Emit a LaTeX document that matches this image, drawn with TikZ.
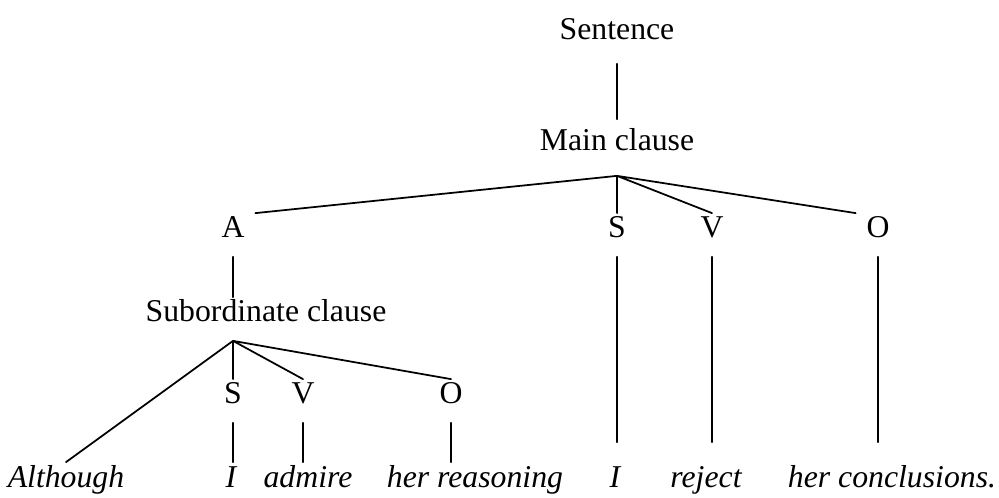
\documentclass[tikz,border=0pt]{standalone}
\usepackage{fontspec}
\setmainfont{Liberation Serif}
\begin{document}
\begin{tikzpicture}[x=0.4pt,y=-0.4pt,line cap=round,line width=0.7pt,
	lbl/.style={anchor=base,inner xsep=4pt,inner ysep=0pt,text height=9.6pt,text depth=7.2pt,font=\fontsize{12.7}{15}\selectfont},
	wd/.style={lbl,font=\fontsize{12.7}{15}\selectfont\itshape}]
	\useasboundingbox (0,0) rectangle (999,498);
	% upper levels
	\node[lbl,text depth=9.2pt] (sent) at (617,40) {Sentence};
	\node[lbl,text height=12.4pt,text depth=9.6pt] (mc) at (617,151) {Main clause};
	\node[lbl] (A) at (233,238) {A};
	\node[lbl] (S) at (617,238) {S};
	\node[lbl] (V) at (712,238) {V};
	\node[lbl] (O) at (878,238) {O};
	\node[lbl] (sub) at (266,322) {Subordinate clause};
	\node[lbl] (sS) at (233,404) {S};
	\node[lbl] (sV) at (303,404) {V};
	\node[lbl] (sO) at (451,404) {O};
	% words
	\node[wd] (although) at (66,487) {Although};
	\node[wd] (i1) at (231,487) {I};
	\node[wd] (admire) at (308,487) {admire};
	\node[wd] (reason) at (475,487) {her reasoning};
	\node[wd] (i2) at (615,487) {I};
	\node[wd] (reject) at (706,487) {reject};
	\node[wd] (concl) at (892,487) {her conclusions.};
	% branches
	\draw (sent) -- (mc);
	\draw (mc.south) -- (A.north east) (mc.south) -- (S.north) (mc.south) -- (V.north) (mc.south) -- (O.north west);
	\draw (A.south) -- (A.south |- sub.north);
	\coordinate (subtop) at (A.south |- sub.south);
	\draw (subtop) -- (although.north) (subtop) -- (sS.north) (subtop) -- (sV.north) (subtop) -- (sO.north);
	\foreach \n/\w in {sS/i1,sV/admire,sO/reason}
		\draw (\n.south) -- (\n.south |- \w.north);
	\foreach \n/\w in {S/i2,V/reject,O/concl}
		\draw[shorten >=8pt] (\n.south) -- (\n.south |- \w.north);
\end{tikzpicture}
\end{document}
